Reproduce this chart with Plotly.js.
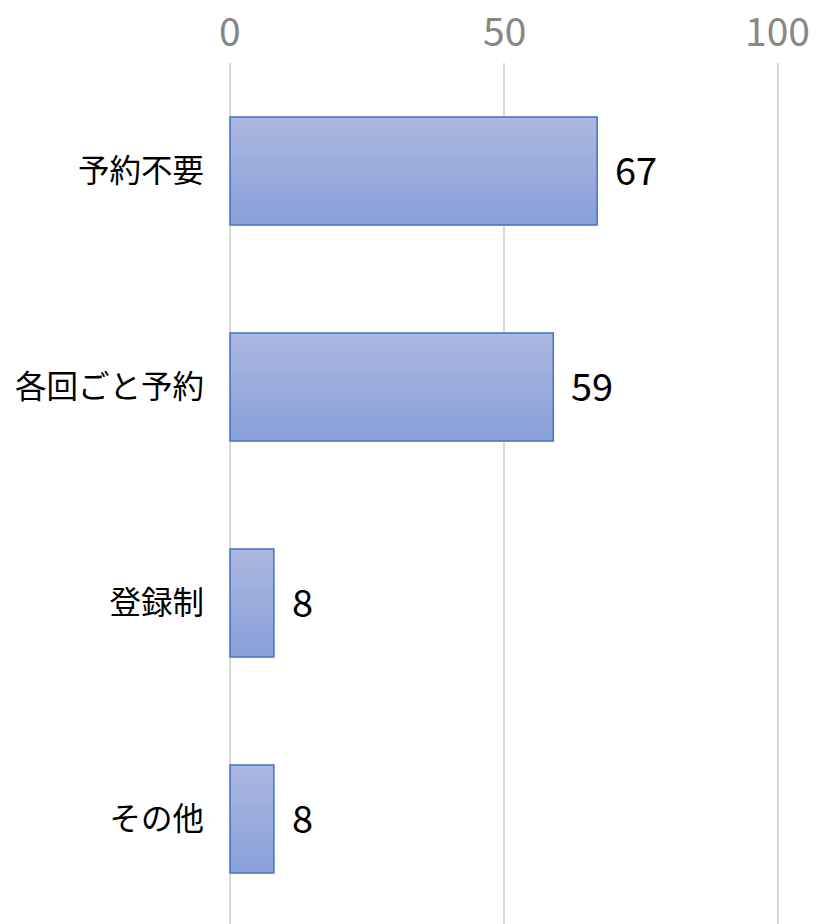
<!DOCTYPE html>
<html>
<head>
<meta charset="utf-8">
<script src="https://cdn.plot.ly/plotly-3.0.1.min.js"></script>
<style>html,body{margin:0;padding:0;background:#fff;}#chart{width:816px;height:924px;}</style>
</head>
<body>
<div id="chart"></div>
<script>
var categories = ["予約不要", "各回ごと予約", "登録制", "その他"];
var values = [67, 59, 8, 8];
var tickValues = [0, 50, 100];
var tickLabels = ["0", "50", "100"];

var FONT = "Noto Sans CJK JP, Noto Sans, sans-serif";
var topColor = [170, 183, 225];
var bottomColor = [137, 160, 217];
var nBands = 14;
var barWidth = 0.5;
var traces = [];
for (var i = 0; i < nBands; i++) {
  var t = i / (nBands - 1);
  var c = topColor.map(function (a, k) { return Math.round(a + (bottomColor[k] - a) * t); });
  var w = (i === nBands - 1) ? barWidth / nBands : barWidth / nBands + 0.008;
  traces.push({
    type: "bar", orientation: "h",
    x: values, y: categories,
    width: w,
    offset: -barWidth / 2 + i * barWidth / nBands,
    marker: { color: "rgb(" + c.join(",") + ")", line: { width: 0 } },
    hoverinfo: "skip", showlegend: false
  });
}
traces.push({
  type: "bar", orientation: "h",
  x: values, y: categories,
  width: barWidth, offset: -barWidth / 2,
  marker: { color: "rgba(0,0,0,0)", line: { color: "#4472c4", width: 1.5 } },
  showlegend: false
});

var annotations = values.map(function (v, i) {
  return {
    x: v, y: categories[i], xref: "x", yref: "y",
    text: String(v), showarrow: false, xanchor: "left", yanchor: "middle",
    xshift: 16, yshift: 3, font: { family: FONT, size: 38, color: "#000" }
  };
});
tickValues.forEach(function (tv, i) {
  annotations.push({
    x: tv, y: 1, xref: "x", yref: "paper",
    text: tickLabels[i], showarrow: false, xanchor: "center", yanchor: "middle",
    yshift: 34, font: { family: FONT, size: 39, color: "#878787" }
  });
});

var layout = {
  width: 816, height: 924,
  margin: { l: 229, r: 37, t: 63, b: 0, pad: 0 },
  paper_bgcolor: "#fff", plot_bgcolor: "#fff",
  barmode: "overlay",
  showlegend: false,
  xaxis: {
    side: "top", range: [-0.2, 100.2],
    tickvals: tickValues, showticklabels: false,
    showgrid: true, gridcolor: "#d9d9d9", gridwidth: 1.5,
    zeroline: false, showline: false, ticks: ""
  },
  yaxis: {
    type: "category", range: [3.486, -0.5],
    tickfont: { family: FONT, size: 31.5, color: "#000" },
    showgrid: false, zeroline: false, showline: false, ticks: "",
    ticklabelstandoff: 24
  },
  annotations: annotations
};

Plotly.newPlot("chart", traces, layout, { displayModeBar: false, staticPlot: true });
</script>
</body>
</html>
